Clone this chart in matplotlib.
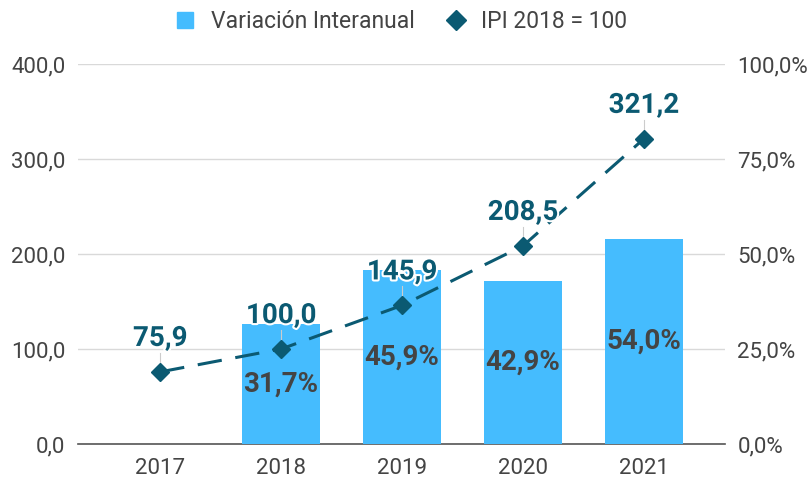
import matplotlib
matplotlib.use("Agg")
import matplotlib.pyplot as plt
from matplotlib.lines import Line2D
import matplotlib.patheffects as pe

plt.rcParams['font.family'] = ['Roboto', 'DejaVu Sans']

years = ["2017", "2018", "2019", "2020", "2021"]
variacion = [None, 31.7, 45.9, 42.9, 54.0]   # % (right axis)
ipi = [75.9, 100.0, 145.9, 208.5, 321.2]     # left axis
left_ticks = [0, 100, 200, 300, 400]
right_ticks = [0, 25, 50, 75, 100]

BAR = "#45BCFE"
LINE = "#0B5A72"
TXT = "#444444"

fig = plt.figure(figsize=(8.09, 4.8), dpi=100)
ax = fig.add_axes([0.0964, 0.075, 0.7996, 0.7917])
ax2 = ax.twinx()

x = list(range(len(years)))

ax.set_ylim(0, 400)
ax.set_yticks(left_ticks)
ax.set_yticklabels([f"{v:.1f}".replace(".", ",") for v in left_ticks])
ax.grid(axis='y', color="#d9d9d9", linewidth=1)
ax.set_axisbelow(True)
ax.set_xlim(-0.68, 4.67)
ax.set_xticks(x)
ax.set_xticklabels(years)

ax2.set_ylim(0, 100)
ax2.set_yticks(right_ticks)
ax2.set_yticklabels([f"{v:.1f}%".replace(".", ",") for v in right_ticks])

bx = [i for i, v in zip(x, variacion) if v is not None]
bv = [v for v in variacion if v is not None]
ax2.bar(bx, bv, width=0.65, color=BAR, zorder=1)
for xi, v in zip(bx, bv):
    ax2.text(xi, v / 2, f"{v:.1f}%".replace(".", ","), ha='center', va='center',
             fontsize=20, fontweight='bold', color=TXT, zorder=2)

ax3 = ax.figure.add_axes(ax.get_position(), sharex=ax)
ax3.set_ylim(0, 400)
ax3.axis('off')
ax3.patch.set_visible(False)
ax3.plot(x, ipi, color=LINE, linewidth=2.2, dashes=(8, 4.5), marker='D',
         markersize=9, markerfacecolor=LINE, markeredgecolor=LINE, zorder=3)
for xi, v in zip(x, ipi):
    ax3.plot([xi, xi], [v, v + 20], color="#cccccc", linewidth=0.8, zorder=2)
    ax3.text(xi, v + 21, f"{v:.1f}".replace(".", ","), ha='center', va='bottom',
             fontsize=20, fontweight='bold', color=LINE, zorder=4,
             path_effects=[pe.withStroke(linewidth=3, foreground='white')])

for a in (ax, ax2):
    for s in a.spines.values():
        s.set_visible(False)
ax.spines['bottom'].set_visible(True)
ax.spines['bottom'].set_color("#555555")
ax.spines['bottom'].set_linewidth(1.2)

ax.tick_params(axis='y', length=0, pad=9, labelsize=16, labelcolor=TXT)
ax.tick_params(axis='x', length=0, pad=10, labelsize=16, labelcolor=TXT)
ax2.tick_params(axis='y', length=0, pad=9, labelsize=16, labelcolor=TXT)

handles = [Line2D([], [], marker='s', linestyle='none', markersize=12, color=BAR),
           Line2D([], [], marker='D', linestyle='none', markersize=10, color=LINE)]
fig.legend(handles, ["Variación Interanual", "IPI 2018 = 100"], loc='center',
           bbox_to_anchor=(0.495, 0.955), ncol=2, frameon=False, fontsize=16.5,
           labelcolor=TXT, handletextpad=0.6, columnspacing=1.3, handlelength=1.0)

fig.savefig("out.png", dpi=100)
